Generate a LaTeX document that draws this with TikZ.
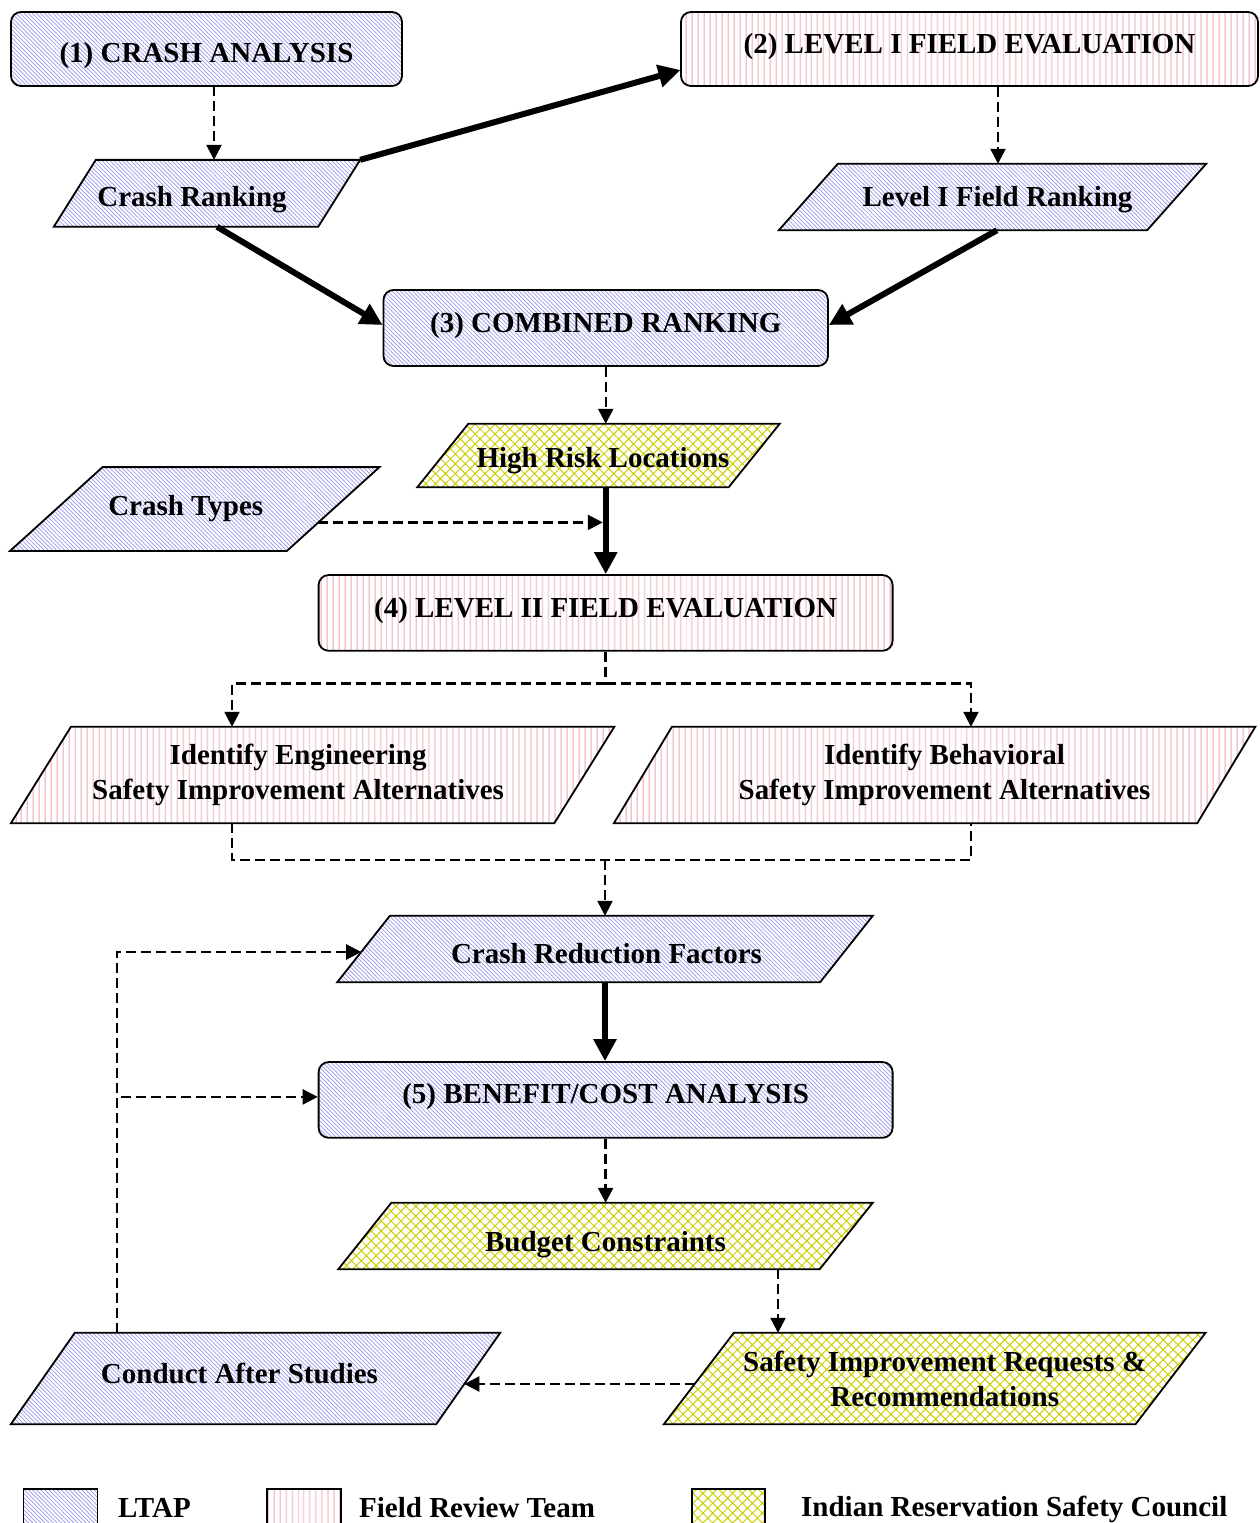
\documentclass[tikz,border=0pt]{standalone}
\usepackage{fontspec}
\setmainfont{Liberation Serif}
\usetikzlibrary{patterns.meta,arrows.meta,calc,backgrounds}
\definecolor{ltapc}{RGB}{150,150,235}
\definecolor{fieldc}{RGB}{235,160,170}
\definecolor{irscc}{RGB}{205,205,0}
\tikzset{
 ltapfill/.style={pattern={Lines[angle=-45,distance=2.9pt,line width=0.7pt]},pattern color=ltapc},
 fieldfill/.style={pattern={Lines[angle=90,distance=6.4pt,line width=1.1pt]},pattern color=fieldc},
 irscfill/.style={pattern={Hatch[angle=45,distance=7pt,line width=1pt]},pattern color=irscc},
 border/.style={draw=black,line width=1.8pt},
 txt/.style={font=\fontsize{29}{35}\selectfont\bfseries, inner sep=0pt},
 box/.style={txt, border, rounded corners=10pt, text depth=0pt},
 dashline/.style={line width=2.4pt, dash pattern=on 10pt off 5pt},
 dasharrow/.style={dashline, -{Triangle[length=15pt,width=15pt]}},
 thickarrow/.style={line width=6pt, -{Triangle[length=22pt,width=22pt]}},
}
\newcommand\paral[9]{%
  \node[txt,#8,minimum width=#4pt,minimum height=#5pt] (#1) at (#2,#3) {#9};
  \coordinate (#1-tl) at ($(#1.north west)+(#6/2,0)$);
  \coordinate (#1-tr) at ($(#1.north east)+(#6/2,0)$);
  \coordinate (#1-br) at ($(#1.south east)+(-#6/2,0)$);
  \coordinate (#1-bl) at ($(#1.south west)+(-#6/2,0)$);
  \begin{pgfonlayer}{background}
  \path[#7,border] (#1-tl) -- (#1-tr) -- (#1-br) -- (#1-bl) -- cycle;
  \end{pgfonlayer}}
\begin{document}
\begin{tikzpicture}[x=1pt,y=-1pt]
\useasboundingbox (0,0) rectangle (1260,1523);
% boxes
\node[box,ltapfill,minimum width=391pt,minimum height=74pt,text height=26pt] (ca) at (206.5,49) {(1) CRASH ANALYSIS};
\node[box,fieldfill,minimum width=577pt,minimum height=74pt,text height=8pt] (l1) at (969.5,49) {(2) LEVEL I FIELD EVALUATION};
\node[box,ltapfill,minimum width=444.5pt,minimum height=76pt,text height=9pt] (cb) at (605.75,328) {(3) COMBINED RANKING};
\node[box,fieldfill,minimum width=574pt,minimum height=75.7pt,text height=10pt] (l2) at (605.6,612.9) {(4) LEVEL II FIELD EVALUATION};
\node[box,ltapfill,minimum width=574pt,minimum height=75.7pt,text height=7pt] (bc) at (605.6,1099.9) {(5) BENEFIT/COST ANALYSIS};
% parallelograms
\paral{cr}{207}{193.3}{264}{66.5}{42}{ltapfill}{text height=26pt,text depth=0pt}{\hspace*{-30pt}Crash Ranking}
\paral{l1r}{992.5}{197}{368}{66}{59}{ltapfill}{text height=18pt,text depth=0pt}{\hspace*{10pt}Level I Field Ranking}
\paral{hr}{598.5}{455.5}{311}{63}{51}{irscfill}{text height=24pt,text depth=0pt}{\hspace*{9pt}High Risk Locations}
\paral{ct}{194.75}{509}{276.5}{83.4}{92.5}{ltapfill}{text height=12pt,text depth=0pt}{\hspace*{-18pt}Crash Types}
\paral{eng}{312.6}{775}{543}{96}{60}{fieldfill}{align=center}{\hspace*{-29pt}Identify Engineering\\\hspace*{-29pt}Safety Improvement Alternatives}
\paral{beh}{934.6}{775}{583}{96}{58}{fieldfill}{align=center}{\hspace*{20pt}Identify Behavioral\\\hspace*{20pt}Safety Improvement Alternatives}
\paral{crf}{605}{949}{482.5}{66}{52.6}{ltapfill}{text height=28pt,text depth=0pt}{\hspace*{3pt}Crash Reduction Factors}
\paral{bud}{605.5}{1236}{481}{66}{53}{irscfill}{text height=30pt,text depth=0pt}{Budget Constraints}
\paral{saf}{934.7}{1378.5}{471.3}{91}{70}{irscfill}{align=center}{\hspace*{20pt}Safety Improvement Requests \&\\\hspace*{20pt}Recommendations}
\paral{cas}{255.5}{1378.5}{425}{91}{64}{ltapfill}{text height=10pt,text depth=0pt}{\hspace*{-32pt}Conduct After Studies}
% connectors
\coordinate (caout) at ($(ca.south)+(7.5,0)$);
\draw[dasharrow] (caout) -- (caout |- cr.north);
\coordinate (l1out) at ($(l1.south)+(28.5,0)$);
\draw[dasharrow] (l1out) -- (l1out |- l1r.north);
\draw[thickarrow] (cr-tr) -- ($(l1.west)+(0,21)$);
\draw[thickarrow] ($(cr.south)+(10,0)$) -- ($(cb.west)+(0,-3)$);
\draw[thickarrow] ($(l1r.south)+(4.5,0)$) -- ($(cb.east)+(0,-3)$);
\draw[dasharrow] (cb.south) -- (cb.south |- hr.north);
\draw[thickarrow] (cb.south |- hr.south) -- (cb.south |- l2.north);
\coordinate (ctout) at ($(ct-tr)!0.66!(ct-br)$);
\draw[dasharrow, shorten >=3pt] (ctout) -- (ctout -| cb.south);
\draw[dashline] (l2.south) -- ++(0,32) coordinate (split1);
\coordinate (engin) at ($(eng.north)+(-80.6,0)$);
\coordinate (behin) at ($(beh.north)+(36.4,0)$);
\draw[dasharrow] (split1) -| (engin);
\draw[dasharrow] (split1) -| (behin);
\coordinate (engout) at ($(eng.south)+(-80.6,0)$);
\coordinate (behout) at ($(beh.south)+(36.4,0)$);
\draw[dashline] (engout) -- ++(0,37) coordinate (merge) -| (behout);
\draw[dasharrow] (merge -| crf.north) -- (crf.north);
\draw[thickarrow] (crf.south) -- (crf.south |- bc.north);
\draw[dasharrow] (bc.south) -- (bc.south |- bud.north);
\coordinate (budout) at ($(bud.south)+(172.5,0)$);
\draw[dasharrow] (budout) -- (budout |- saf.north);
\coordinate (safout) at ($(saf-tl)!0.56!(saf-bl)$);
\coordinate (casin) at ($(cas-tr)!0.56!(cas-br)$);
\draw[dasharrow] (safout) -- (casin);
\coordinate (fbstart) at ($(cas-tl)+(42,0)$);
\coordinate (crfin) at ($(crf-tl)!0.545!(crf-bl)$);
\draw[dasharrow] (fbstart) |- (crfin);
\draw[dasharrow] (fbstart) |- ($(bc.west)+(0,-3)$);
% legend
\node[border,ltapfill,minimum width=74pt,minimum height=60pt,anchor=north west,inner sep=0pt] (legA) at (22.5,1488) {};
\node[txt,anchor=base west] (legAt) at (118,1517) {LTAP};
\node[border,fieldfill,minimum width=74pt,minimum height=60pt,anchor=north west,inner sep=0pt] (legB) at (266,1488) {};
\node[txt,anchor=base west] (legBt) at (359,1517) {Field Review Team};
\node[border,irscfill,minimum width=73pt,minimum height=60pt,anchor=north west,inner sep=0pt] (legC) at (691,1488) {};
\node[txt,anchor=base west] (legCt) at (801,1516) {Indian Reservation Safety Council};
\end{tikzpicture}
\end{document}
